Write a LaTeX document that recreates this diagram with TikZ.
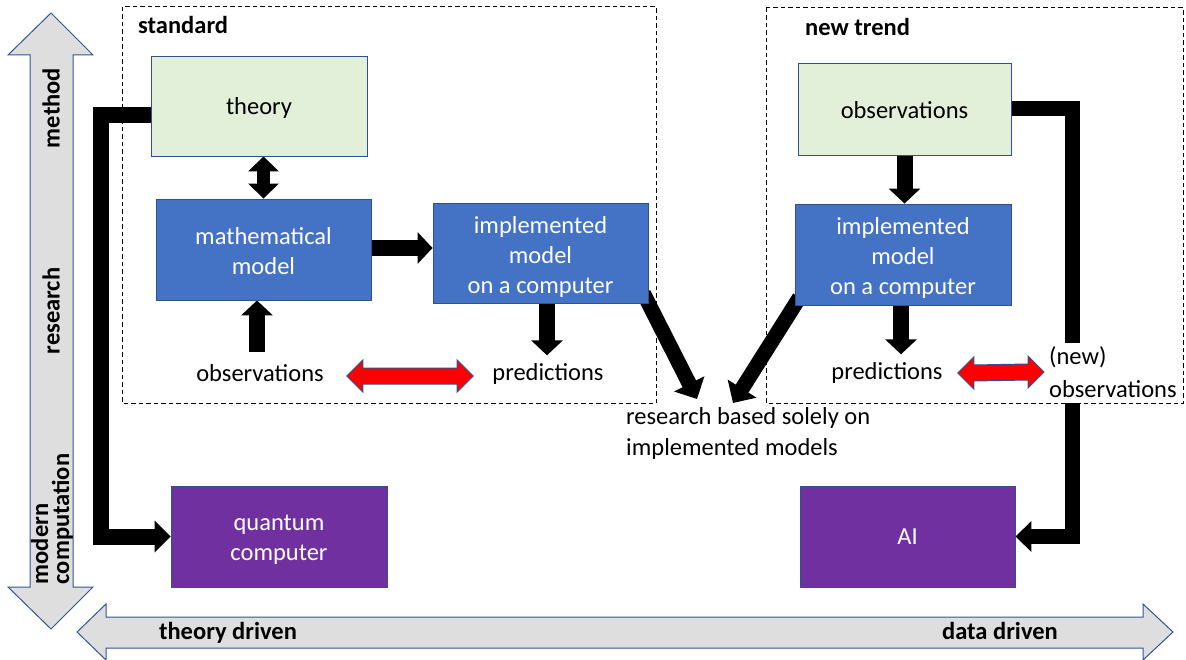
\documentclass[tikz,border=0pt]{standalone}
\usepackage{fontspec}
\setmainfont{Carlito}
\usetikzlibrary{arrows.meta,calc}
\definecolor{boxgreen}{HTML}{E2F0D9}
\definecolor{boxblue}{HTML}{4472C4}
\definecolor{boxpurple}{HTML}{7030A0}
\definecolor{edgeblue}{HTML}{2F528F}
\definecolor{axisgray}{HTML}{DEDEDE}
\definecolor{axisedge}{HTML}{2F5597}
\pgfdeclarelayer{bg}
\pgfsetlayers{bg,main}
\newcommand{\fs}{\fontsize{24.5}{30}\selectfont}
\begin{document}
\begin{tikzpicture}[x=1pt,y=-1pt,font=\fs,
  box/.style={draw=edgeblue,line width=0.9pt,inner sep=0pt,align=center},
  greenbox/.style={box,fill=boxgreen},
  bluebox/.style={box,fill=boxblue},
  purplebox/.style={box,fill=boxpurple},
  txt/.style={inner sep=0pt,align=center},
  wtxt/.style={txt,text=white},
  lbl/.style={inner sep=0pt,font=\fs\bfseries},
  dashframe/.style={draw=black,line width=1pt,dash pattern=on 4.5pt off 3pt},
  axis/.style={draw=axisedge,fill=axisgray,line width=1pt,line join=miter},
  blk/.style={draw=black,line width=16pt,-{Triangle[width=31pt,length=15pt]}},
  blkdiag/.style={draw=black,line width=15pt,-{Triangle[width=33pt,length=17pt]}},
  blkboth/.style={draw=black,line width=13pt,{Triangle[width=30pt,length=15pt]}-{Triangle[width=30pt,length=15pt]}},
  pipe/.style={draw=black,line width=16pt,line join=miter},
  redarrow/.style={draw=edgeblue,fill=red,line width=1pt,line join=miter,
    to path={(\tikztostart) -- ([shift={(16,-16)}]\tikztostart) -- ([shift={(16,-8)}]\tikztostart)
      -- ([shift={(-16,-8)}]\tikztotarget) -- ([shift={(-16,-16)}]\tikztotarget) -- (\tikztotarget)
      -- ([shift={(-16,16)}]\tikztotarget) -- ([shift={(-16,8)}]\tikztotarget)
      -- ([shift={(16,8)}]\tikztostart) -- ([shift={(16,16)}]\tikztostart) -- cycle}}
]
\useasboundingbox (0,0) rectangle (1186,660);

% axes
\path[axis] (51,13) -- (93,55) -- (73,55) -- (73,587) -- (93,587) -- (51,629) -- (8,587) -- (30,587) -- (30,55) -- (8,55) -- cycle;
\path[axis] (77,632) -- (106,604) -- (106,617) -- (1143,617) -- (1143,604) -- (1173,632) -- (1143,660) -- (1143,648) -- (106,648) -- (106,660) -- cycle;

% boxes
\node[greenbox,minimum width=216,minimum height=100] (theory) at (259,106) {};
\node[bluebox,minimum width=215,minimum height=101] (math) at (263.5,249.5) {};
\node[bluebox,minimum width=215,minimum height=100] (implL) at (540.5,253) {};
\node[greenbox,minimum width=213,minimum height=92] (obsR) at (904.5,109) {};
\node[bluebox,minimum width=216,minimum height=101] (implR) at (903,254.5) {};
\node[purplebox,minimum width=216,minimum height=101] (qc) at (279,536.5) {};
\node[purplebox,minimum width=215,minimum height=101] (ai) at (907.5,536.5) {};

% box texts
\node[txt] (theoryT) at ([shift={(0,2)}]theory.center) {theory};
\node[wtxt] (mathT) at ([shift={(0,2)}]math.center) {mathematical\\model};
\node[wtxt] (implLT) at ([shift={(0,3.5)}]implL.center) {implemented\\model\\on a computer};
\node[txt] (obsRT) at ([shift={(0,1)}]obsR.center) {observations};
\node[wtxt] (implRT) at ([shift={(0,3)}]implR.center) {implemented\\model\\on a computer};
\node[wtxt] (qcT) at ([shift={(0,3.5)}]qc.center) {quantum\\computer};
\node[wtxt] (aiT) at (ai.center) {AI};

% texts
\node[txt] (obsL) at (260,373) {observations};
\node[txt] (predL) at (548,374) {predictions};
\node[txt] (predR) at (887,373) {predictions};
\node[txt,anchor=west,align=left,font=\fontsize{24.5}{33}\selectfont] (newobs) at (1049,372) {(new)\\observations};
\node[txt,anchor=north west,align=left,font=\fontsize{24.5}{31}\selectfont] (research) at (626,407) {research based solely on\\implemented models};
\node[lbl,anchor=west] (std) at (138,25) {standard};
\node[lbl,anchor=west] (newtrend) at (805,27) {new trend};
\node[lbl] (tdriven) at (228,633) {theory driven};
\node[lbl] (ddriven) at (1000,631) {data driven};
\node[lbl,rotate=90] (method) at (51,108) {method};
\node[lbl,rotate=90] (researchax) at (51,311) {research};
\node[lbl,rotate=90,align=left,font=\fontsize{24.5}{21}\selectfont\bfseries] (modern) at (52,519) {modern\\computation};

% helper coordinates
\coordinate (a1) at ([shift={(-3,-12)}]obsL.north);
\coordinate (a2) at ([shift={(6.5,0)}]implL.south);
\coordinate (a2e) at ([shift={(0,-8)}]predL.north);
\coordinate (a3) at ([shift={(-2,0)}]implR.south);
\coordinate (a3e) at ([shift={(0,-8)}]predR.north);
\coordinate (p1) at (1072,343);
\coordinate (p2) at (1072,403);
\coordinate (r1) at ([shift={(23,3)}]obsL.east);
\coordinate (r2) at ([shift={(-19,2)}]predL.west);
\coordinate (r3) at ([shift={(15,0)}]predR.east);
\coordinate (r4) at ([shift={(-5,0)}]newobs.west);

\begin{pgfonlayer}{bg}
\draw[dashframe] (122,7) rectangle (656,403);
\draw[dashframe] (766,8) rectangle (1183,403);
\draw[blkboth] (math.north |- theory.south) -- (math.north);
\draw[blk] (a1) -- (a1 |- math.south);
\draw[blk] (math.east |- 0,248) -- (implL.west |- 0,248);
\draw[blk] (a2) -- (a2 |- a2e);
\draw[blk] (obsR.south) -- (obsR.south |- implR.north);
\draw[blk] (a3) -- (a3 |- a3e);
\draw[blkdiag] ([shift={(-5,-10)}]implL.south east) -- ([shift={(71,-8)}]research.north west);
\draw[blkdiag] ([shift={(5,-8)}]implR.south west) -- ([shift={(107,-4)}]research.north west);
\draw[pipe,-{Triangle[width=31pt,length=16pt]}] ([shift={(0,9)}]theory.west) -- ++(-50,0) |- (qc.west);
\draw[pipe,line width=15pt] (obsR.east) -| (p1);
\draw[pipe,line width=15pt,-{Triangle[width=30pt,length=16pt]}] (p2) |- (ai.east);
\end{pgfonlayer}

\draw[redarrow] (r1) to (r2);
\draw[redarrow] (r3) to (r4);
\end{tikzpicture}
\end{document}
